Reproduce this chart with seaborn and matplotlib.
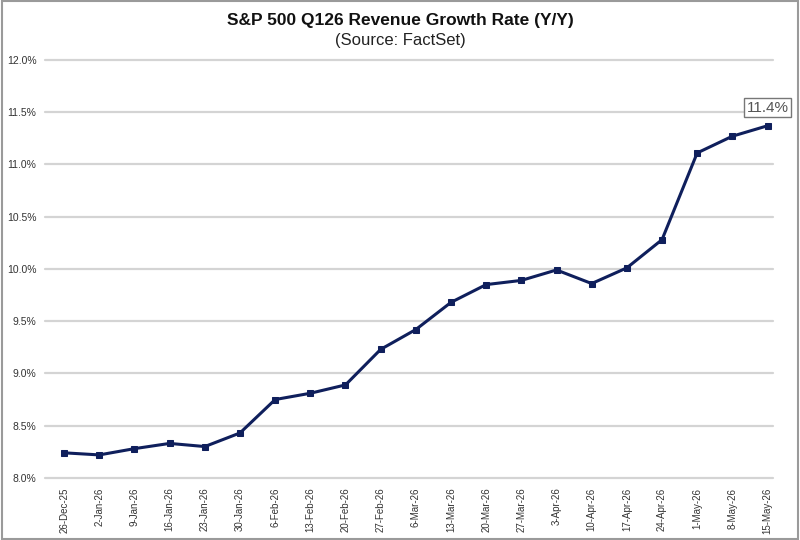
import pandas as pd
import matplotlib.pyplot as plt
import seaborn as sns
from matplotlib.ticker import FuncFormatter

# data
dates = ["26-Dec-25", "2-Jan-26", "9-Jan-26", "16-Jan-26", "23-Jan-26", "30-Jan-26",
         "6-Feb-26", "13-Feb-26", "20-Feb-26", "27-Feb-26", "6-Mar-26", "13-Mar-26",
         "20-Mar-26", "27-Mar-26", "3-Apr-26", "10-Apr-26", "17-Apr-26", "24-Apr-26",
         "1-May-26", "8-May-26", "15-May-26"]
growth = [8.24, 8.22, 8.28, 8.33, 8.30, 8.43,
          8.75, 8.81, 8.89, 9.23, 9.42, 9.68,
          9.85, 9.89, 9.99, 9.86, 10.01, 10.28,
          11.11, 11.27, 11.37]
last_label = "11.4%"

df = pd.DataFrame({"pos": range(len(dates)), "date": dates, "growth": growth})

sns.set_style("white")
plt.rcParams['font.family'] = ['Liberation Sans', 'DejaVu Sans']

fig = plt.figure(figsize=(8, 5.4), dpi=100)
ax = fig.add_axes([0.056, 0.115, 0.91, 0.774])

navy = "#0f1f5c"
sns.lineplot(data=df, x="pos", y="growth", ax=ax, color=navy, linewidth=2.2,
             marker="s", markersize=4.5, markeredgecolor=navy, zorder=3)

ax.set_ylim(8.0, 12.0)
ax.set_yticks([8.0, 8.5, 9.0, 9.5, 10.0, 10.5, 11.0, 11.5, 12.0])
ax.yaxis.set_major_formatter(FuncFormatter(lambda v, p: f"{v:.1f}%"))
ax.set_xlim(-0.55, 20.15)
ax.set_xticks(df["pos"])
ax.set_xticklabels(df["date"], rotation=90, fontsize=7, color="#333333")
ax.tick_params(axis="y", labelsize=7.5, labelcolor="#333333", length=0, pad=6)
ax.tick_params(axis="x", length=0, pad=7)
ax.yaxis.grid(True, color="#d4d4d4", linewidth=1.6)
for gl in ax.get_ygridlines():
    gl.set_clip_on(False)
ax.set_axisbelow(True)
for s in ax.spines.values():
    s.set_visible(False)
ax.set_xlabel("")
ax.set_ylabel("")

# label for the last point
ax.annotate(last_label, xy=(df["pos"].iloc[-1], growth[-1]), xytext=(0, 13),
            textcoords="offset points", ha="center", va="center", fontsize=11,
            color="#555555",
            bbox=dict(boxstyle="square,pad=0.15", fc="white", ec="#777777", lw=1))

fig.text(0.5, 0.962, "S&P 500 Q126 Revenue Growth Rate (Y/Y)", ha="center",
         va="center", fontsize=12.5, fontweight="bold", color="#111111")
fig.text(0.5, 0.925, "(Source: FactSet)", ha="center", va="center",
         fontsize=12, color="#222222")

fig.patches.append(plt.Rectangle((0.002, 0.002), 0.996, 0.996, transform=fig.transFigure,
                                 fill=False, edgecolor="#9a9a9a", linewidth=1.5))

plt.savefig("out.png", dpi=100)
